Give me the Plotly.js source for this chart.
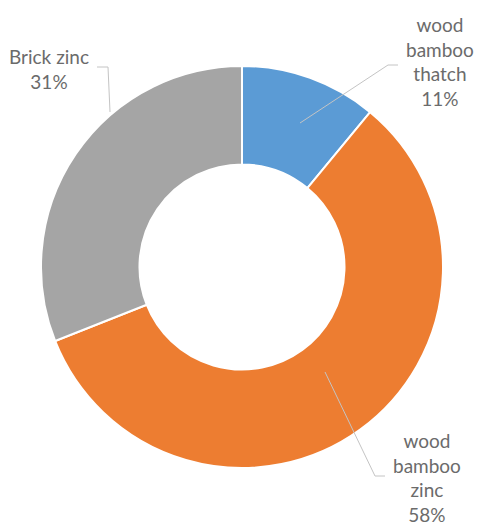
<!DOCTYPE html>
<html>
<head>
<meta charset="utf-8">
<script src="https://cdn.plot.ly/plotly-3.0.1.min.js"></script>
<style>
  html, body { margin: 0; padding: 0; background: #fff; }
  #chart { width: 480px; height: 526px; }
</style>
</head>
<body>
<div id="chart"></div>
<script>
// Data
const labels = ["wood<br>bamboo<br>thatch", "wood<br>bamboo<br>zinc", "Brick zinc"];
const values = [11, 58, 31];
const colors = ["#5B9BD5", "#ED7D31", "#A5A5A5"];

const W = 480, H = 526;
const px = x => x / W;
const py = y => 1 - y / H;

const total = values.reduce((a, b) => a + b, 0);
const pct = values.map(v => Math.round(v / total * 100) + "%");

const trace = {
  type: "pie",
  values: values,
  labels: labels,
  hole: 0.51,
  sort: false,
  direction: "clockwise",
  rotation: 0,
  textinfo: "none",
  hoverinfo: "label+percent",
  marker: { colors: colors, line: { color: "#ffffff", width: 2 } },
  domain: { x: [px(41), px(443)], y: [py(468), py(66)] },
  showlegend: false
};

const labelFont = { family: "Lato, 'Open Sans', sans-serif", size: 19, color: "#6b6b6b" };

// label anchor positions (layout, pixels)
const labelPos = [
  { x: 440, y: 61 },
  { x: 427, y: 477 },
  { x: 49, y: 69 }
];
const annotations = labels.map((l, i) => ({
  xref: "paper", yref: "paper",
  x: px(labelPos[i].x), y: py(labelPos[i].y),
  xanchor: "center", yanchor: "middle",
  text: l + "<br>" + pct[i],
  showarrow: false,
  align: "center",
  font: labelFont
}));

// leader lines (layout, pixels)
const leaders = [
  [[398, 65], [388, 65], [300, 123]],
  [[385, 476], [375, 476], [325, 372]],
  [[97, 67], [108, 67], [110, 112]]
];
const shapes = leaders.map(pts => ({
  type: "path",
  xref: "paper", yref: "paper",
  path: pts.map((p, k) => (k ? "L" : "M") + px(p[0]) + "," + py(p[1])).join(" "),
  line: { color: "#c4c4c4", width: 1 }
}));

const layout = {
  width: W, height: H,
  margin: { l: 0, r: 0, t: 0, b: 0 },
  paper_bgcolor: "#ffffff",
  plot_bgcolor: "#ffffff",
  annotations: annotations,
  shapes: shapes
};

Plotly.newPlot("chart", [trace], layout, { displayModeBar: false, staticPlot: true });
</script>
</body>
</html>
